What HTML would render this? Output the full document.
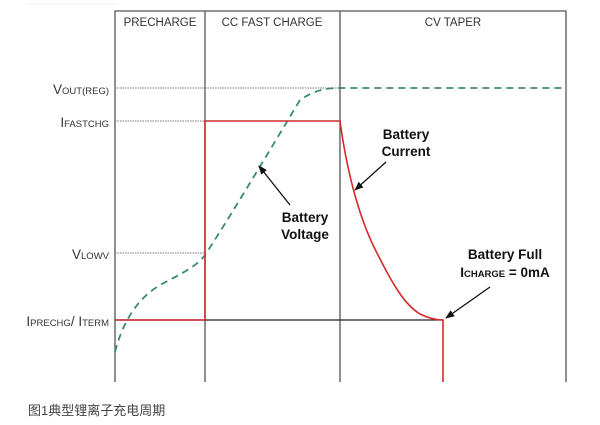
<!DOCTYPE html>
<html><head><meta charset="utf-8"><style>
body{margin:0;background:#fff;width:600px;height:420px;overflow:hidden}
text{font-family:"Liberation Sans",Arial,sans-serif}
</style></head><body>
<svg width="600" height="420" viewBox="0 0 600 420" xmlns="http://www.w3.org/2000/svg">
<defs><marker id="a" viewBox="0 0 10 10" refX="9" refY="5" markerWidth="7" markerHeight="7" orient="auto"><path d="M0,1 L10,5 L0,9 z" fill="#111"/></marker></defs>
<line x1="28" y1="4" x2="115" y2="4" stroke="#f2f2f2"/>
<g stroke="#555" stroke-width="1.3" fill="none">
<path d="M115,382 V11 H566 V382"/>
<line x1="205" y1="11" x2="205" y2="382"/>
<line x1="340" y1="11" x2="340" y2="382"/>
</g>
<g stroke="#777" stroke-width="1" stroke-dasharray="1.5,1">
<line x1="115" y1="88" x2="340" y2="88"/>
<line x1="115" y1="121" x2="340" y2="121"/>
<line x1="115" y1="253" x2="205" y2="253"/>
</g>
<line x1="115" y1="320" x2="443" y2="320" stroke="#222" stroke-width="1.2"/>
<path d="M115,352 C122,325 135,300 160,285 C185,272 198,265 205,255 C225,225 270,150 300,100 C312,92 322,88 340,88 H566" stroke="#3a8a70" stroke-width="1.8" fill="none" stroke-dasharray="7,5"/>
<path d="M115,320 H205 V121 H340 C348,180 362,225 378,255 C393,285 405,305 420,314 C430,319 437,320 443,320 V382" stroke="#d42a2a" stroke-width="1.6" fill="none"/>
<g fill="#333" font-size="11.5" text-anchor="middle">
<text x="160" y="26">PRECHARGE</text>
<text x="272" y="26">CC FAST CHARGE</text>
<text x="453" y="26">CV TAPER</text>
</g>
<g fill="#333" font-size="13.5" text-anchor="end">
<text x="109" y="94">V<tspan font-size="9.5">OUT(REG)</tspan></text>
<text x="109" y="127">I<tspan font-size="9.5">FASTCHG</tspan></text>
<text x="109" y="259">V<tspan font-size="9.5">LOWV</tspan></text>
<text x="109" y="326">I<tspan font-size="9.5">PRECHG</tspan>/ I<tspan font-size="9.5">TERM</tspan></text>
</g>
<g fill="#111" font-size="13.5" font-weight="bold" text-anchor="middle">
<text x="406" y="139">Battery</text>
<text x="406" y="156">Current</text>
<text x="305" y="222">Battery</text>
<text x="305" y="239">Voltage</text>
<text x="505" y="259">Battery Full</text>
<text x="505" y="277">I<tspan font-size="9.5">CHARGE</tspan> = 0mA</text>
</g>
<g stroke="#111" stroke-width="1.3" marker-end="url(#a)">
<line x1="386" y1="162" x2="355" y2="190"/>
<line x1="290" y1="205" x2="259" y2="166"/>
<line x1="490" y1="287" x2="446" y2="318"/>
</g>
<text x="28" y="415" font-size="13" fill="#444" style='font-family:"Liberation Sans","Noto Sans CJK SC",sans-serif'>图1典型锂离子充电周期</text>
</svg>
</body></html>
